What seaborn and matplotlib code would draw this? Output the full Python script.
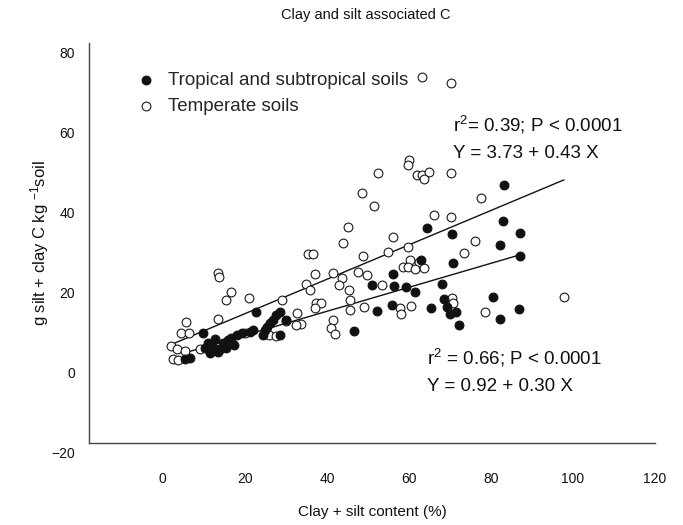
import numpy as np
import pandas as pd
import matplotlib
matplotlib.use("Agg")
import matplotlib.pyplot as plt
import matplotlib.transforms as mtransforms
import seaborn as sns

# ---- data ----
temperate_x = [63.3, 70.2, 60.1, 59.8, 61.9, 63.1, 64.8, 63.7, 70.3, 52.5,
               77.5, 48.5, 51.5, 66.0, 70.2, 45.2, 44.0, 56.0, 76.2, 59.8,
               48.8, 54.8, 73.5, 60.2, 62.5, 58.6, 59.8, 61.5, 63.7, 41.5,
               47.6, 43.7, 49.8, 53.4, 45.5, 43.0, 37.4, 38.6, 37.0, 45.7,
               45.6, 49.1, 57.9, 58.0, 60.5, 70.6, 70.7, 78.5, 41.4, 41.0,
               42.0, 97.8, 35.5, 36.7, 37.1, 35.0, 35.9, 29.1, 32.6, 33.7,
               32.5, 30.1, 25.8, 27.5, 20.0, 21.1, 16.5, 15.5, 13.4, 13.6,
               13.4, 5.7, 4.4, 6.5, 1.9, 3.4, 5.5, 9.0, 2.5, 3.6]
temperate_y = [71.6, 70.1, 50.8, 49.6, 47.0, 47.0, 47.8, 46.0, 47.4, 47.4,
               41.3, 42.6, 39.3, 37.1, 36.5, 33.9, 29.9, 31.6, 30.6, 29.0,
               26.8, 27.8, 27.6, 25.8, 25.3, 24.1, 24.1, 23.4, 23.8, 22.4,
               22.8, 21.2, 21.9, 19.4, 18.3, 19.5, 14.9, 14.9, 13.7, 15.8,
               13.3, 14.1, 13.7, 12.3, 14.3, 16.2, 14.9, 12.7, 10.7, 8.7,
               7.2, 16.6, 27.3, 27.3, 22.2, 19.8, 18.3, 15.7, 12.4, 9.8,
               9.5, 10.5, 7.1, 6.8, 7.5, 16.2, 17.7, 15.8, 22.5, 21.6,
               11.0, 10.2, 7.6, 7.5, 4.2, 3.4, 2.9, 3.5, 0.9, 0.8]

tropical_x = [83.1, 64.4, 70.5, 83.0, 87.0, 82.2, 87.0, 70.7, 63.0, 56.2,
              50.9, 56.3, 59.4, 61.5, 68.0, 55.8, 52.3, 65.4, 68.5, 69.3,
              71.6, 70.0, 72.2, 80.6, 82.3, 86.8, 46.6, 22.8, 28.5, 27.7,
              26.9, 26.1, 25.3, 30.0, 28.5, 22.0, 21.2, 19.2, 18.0, 16.7,
              15.9, 14.7, 15.5, 13.5, 12.3, 11.0, 11.5, 9.8, 6.6, 5.3,
              12.8, 14.0, 17.3, 10.3, 24.4, 25.0]
tropical_y = [44.5, 33.8, 32.2, 35.4, 32.6, 29.5, 26.7, 24.9, 25.8, 22.3,
              19.5, 19.3, 19.1, 17.7, 19.8, 14.6, 12.9, 13.7, 16.0, 14.0,
              12.8, 12.2, 9.5, 16.5, 10.9, 13.4, 8.1, 12.8, 12.8, 12.0,
              10.8, 9.9, 9.1, 10.8, 7.0, 8.3, 7.8, 7.4, 7.0, 6.2,
              5.8, 4.9, 3.7, 2.8, 4.1, 4.9, 2.4, 7.4, 1.2, 1.0,
              6.0, 3.5, 4.6, 3.8, 7.0, 8.2]

series_labels = ["Tropical and subtropical soils", "Temperate soils"]
# regression coefficients (intercept, slope) as printed on the chart
temperate_fit = [3.73, 0.43]
tropical_fit = [0.92, 0.30]
temperate_stats = ["r$^2$= 0.39; P < 0.0001", "Y = 3.73 + 0.43 X"]
tropical_stats = ["r$^2$ = 0.66; P < 0.0001", "Y = 0.92 + 0.30 X"]

x_ticks = [0, 20, 40, 60, 80, 100, 120]
y_ticks = [-20, 0, 20, 40, 60, 80]

title = "Clay and silt associated C"
x_label = "Clay + silt content (%)"
y_label = "g silt + clay C kg $^{-1}$soil"

# ---- styling ----
sns.set_theme(style="white")
plt.rcParams["font.family"] = ["Liberation Sans", "DejaVu Sans"]
plt.rcParams["mathtext.fontset"] = "custom"
plt.rcParams["mathtext.rm"] = "Liberation Sans"
plt.rcParams["mathtext.it"] = "Liberation Sans:italic"

W, H = 683, 525
fig = plt.figure(figsize=(W / 100, H / 100), dpi=100)
ax = fig.add_axes([89 / W, 1 - 443 / H, (655 - 89) / W, (443 - 43) / H])

df_t = pd.DataFrame({"x": tropical_x, "y": tropical_y})
df_m = pd.DataFrame({"x": temperate_x, "y": temperate_y})

sns.scatterplot(data=df_m, x="x", y="y", ax=ax, s=40, color="white",
                edgecolor="#1a1a1a", linewidth=0.8, label=series_labels[1],
                zorder=3)
sns.scatterplot(data=df_t, x="x", y="y", ax=ax, s=40, color="#111111",
                edgecolor="#111111", linewidth=0.8, label=series_labels[0],
                zorder=4)

# regression lines from printed equations over the data range
for df, fit in ((df_m, temperate_fit), (df_t, tropical_fit)):
    lx = np.array([df["x"].min(), df["x"].max()])
    ax.plot(lx, fit[0] + fit[1] * lx, color="#111111", lw=1.0, zorder=2)

ax.set_xlim(-18, 120)
ax.set_ylim(-20, 80)
ax.set_xticks(x_ticks)
ax.set_yticks(y_ticks)
ax.tick_params(axis="both", direction="out", length=5, width=0.8,
               color="#333333", labelsize=10, labelcolor="#111111")
ax.tick_params(axis="x", pad=16)
ax.tick_params(axis="y", pad=5)
sns.despine(ax=ax)
for sp in ("left", "bottom"):
    ax.spines[sp].set_color("#444444")
    ax.spines[sp].set_linewidth(1.0)

# y tick labels appear shifted slightly downward in the reference
off = mtransforms.ScaledTranslation(0, -0.09, fig.dpi_scale_trans)
for lab in ax.get_yticklabels():
    lab.set_transform(lab.get_transform() + off)

ax.set_xlabel(x_label, fontsize=11, color="#111111")
ax.xaxis.set_label_coords(0.5, -(512 - 443) / 400)
ax.xaxis.label.set_va("center")
ax.set_ylabel(y_label, fontsize=12, color="#111111")
ax.yaxis.set_label_coords((40 - 89) / 566, 0.5)
ax.yaxis.label.set_va("center")

fig.text(366 / W, 1 - 15 / H, title, ha="center", va="center",
         fontsize=10.5, color="#111111")

# stats text
fs = 13.5
ax.text(70.7, 59.5, temperate_stats[0], fontsize=fs, va="center", ha="left", color="#111111")
ax.text(70.7, 52.5, temperate_stats[1], fontsize=fs, va="center", ha="left", color="#111111")
ax.text(64.4, 1.2, tropical_stats[0], fontsize=fs, va="center", ha="left", color="#111111")
ax.text(64.4, -5.8, tropical_stats[1], fontsize=fs, va="center", ha="left", color="#111111")

handles, labels = ax.get_legend_handles_labels()
order = [labels.index(series_labels[0]), labels.index(series_labels[1])]
ax.legend([handles[i] for i in order], [labels[i] for i in order],
          loc="upper left", bbox_to_anchor=((138.5 - 89) / 566, 1 - (72 - 43) / 400),
          frameon=False, fontsize=13.5, handletextpad=0.75, labelspacing=0.48,
          borderaxespad=0, borderpad=0, handlelength=0.8)

fig.savefig("out.png", dpi=100)
